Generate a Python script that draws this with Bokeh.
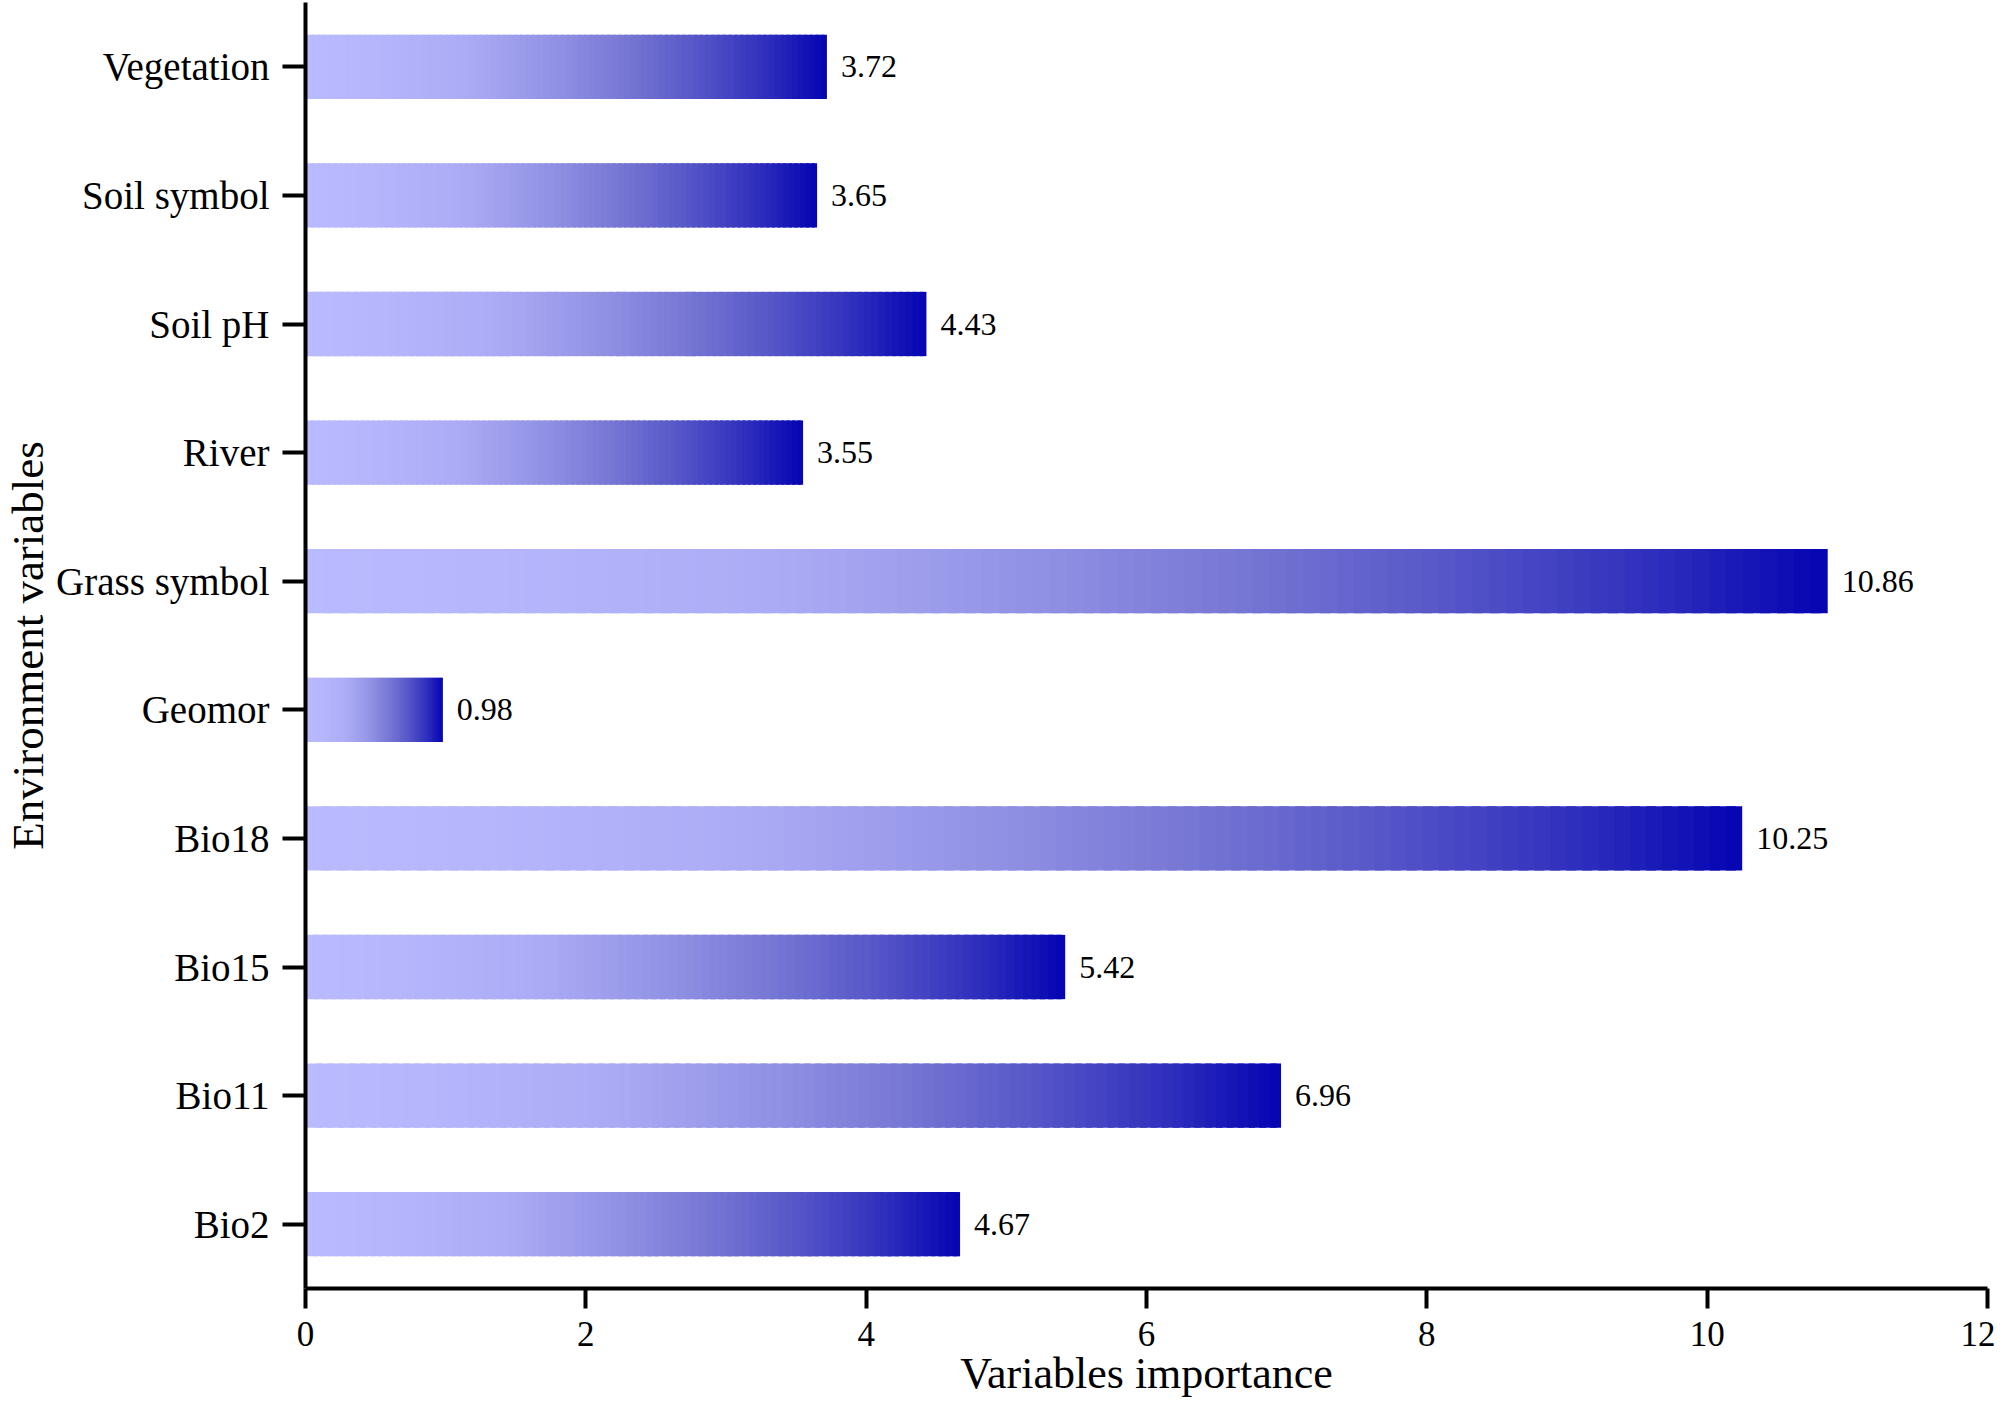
from bokeh.plotting import figure
from bokeh.models import FactorRange, Range1d, FixedTicker, ColumnDataSource
from bokeh.core.properties import value
from bokeh.embed import file_html
from bokeh.resources import INLINE

# ---- data (bottom to top) ----
categories = ["Bio2", "Bio11", "Bio15", "Bio18", "Geomor", "Grass symbol",
              "River", "Soil pH", "Soil symbol", "Vegetation"]
importance = [4.67, 6.96, 5.42, 10.25, 0.98, 10.86, 3.55, 4.43, 3.65, 3.72]
value_labels = ["4.67", "6.96", "5.42", "10.25", "0.98", "10.86", "3.55", "4.43", "3.65", "3.72"]
x_ticks = [0, 2, 4, 6, 8, 10, 12]
x_title = "Variables importance"
y_title = "Environment variables"

# gradient stops (fraction of bar length, RGB)
grad_pos = [0.0, 0.12, 0.3, 0.45, 0.6, 0.75, 0.88, 1.0]
grad_rgb = [(186, 186, 255), (182, 182, 253), (172, 172, 246), (150, 150, 232),
            (122, 122, 214), (86, 86, 200), (48, 48, 190), (4, 4, 178)]

FONT = "Liberation Serif"

def grad_color(t):
    for i in range(len(grad_pos) - 1):
        if grad_pos[i] <= t <= grad_pos[i + 1]:
            f = (t - grad_pos[i]) / (grad_pos[i + 1] - grad_pos[i])
            c = [round(a + (b - a) * f) for a, b in zip(grad_rgb[i], grad_rgb[i + 1])]
            return "#%02x%02x%02x" % tuple(c)
    return "#%02x%02x%02x" % grad_rgb[-1]

p = figure(width=1995, height=1400, output_backend="svg", toolbar_location=None,
           y_range=FactorRange(factors=categories), x_range=Range1d(0, 12),
           min_border_left=305, min_border_right=8, min_border_top=2, min_border_bottom=112)
p.outline_line_color = None
p.xgrid.visible = False
p.ygrid.visible = False
p.background_fill_color = "white"

# gradient bars as slices
N = 90
ys, lefts, rights, cols = [], [], [], []
for cat, v in zip(categories, importance):
    for i in range(N):
        ys.append(cat)
        lefts.append(v * i / N)
        rights.append(min(v, v * (i + 1.6) / N))
        cols.append(grad_color((i + 0.5) / N))
src = ColumnDataSource(dict(y=ys, left=lefts, right=rights, color=cols))
p.hbar(y="y", left="left", right="right", height=0.5, fill_color="color",
       line_color=None, source=src)

# value labels
lab = ColumnDataSource(dict(x=importance, y=categories, t=value_labels))
p.text(x="x", y="y", text="t", source=lab, x_offset=14, text_baseline="middle",
       text_align="left", text_font=value(FONT), text_font_size="32px", text_color="black")

# axes styling
for ax in (p.xaxis[0], p.yaxis[0]):
    ax.axis_line_width = 4
    ax.axis_line_color = "black"
    ax.major_tick_line_width = 4
    ax.major_tick_line_color = "black"
    ax.major_tick_in = 0
    ax.minor_tick_line_color = None
    ax.major_label_text_font = FONT
    ax.major_label_text_color = "black"
    ax.axis_label_text_font = FONT
    ax.axis_label_text_font_style = "normal"
    ax.axis_label_text_color = "black"

p.xaxis.ticker = FixedTicker(ticks=x_ticks)
p.xaxis.major_tick_out = 20
p.xaxis.major_label_standoff = 13
p.xaxis.major_label_text_font_size = "35px"
p.xaxis.axis_label = x_title
p.xaxis.axis_label_text_font_size = "44px"
p.xaxis.axis_label_standoff = 0

p.yaxis.major_tick_out = 23
p.yaxis.major_label_standoff = 13
p.yaxis.major_label_text_font_size = "39px"
p.yaxis.axis_label = y_title
p.yaxis.axis_label_text_font_size = "45px"
p.yaxis.axis_label_standoff = 0

open("out.html", "w").write(file_html(p, INLINE))
